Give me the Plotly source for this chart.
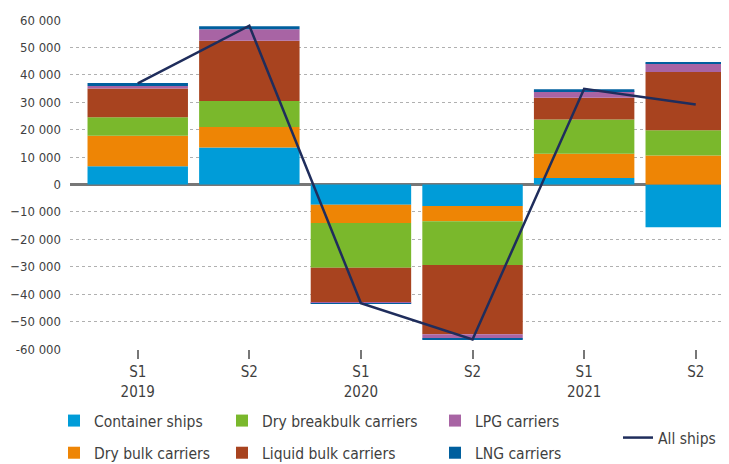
import plotly.graph_objects as go

periods = ["S1", "S2", "S1", "S2", "S1", "S2"]
years = ["2019", "", "2020", "", "2021", ""]

container = [6700, 13500, -7400, -7800, 2400, -15600]
dry_bulk = [11100, 7500, -6600, -5600, 8800, 10600]
dry_breakbulk = [6700, 9500, -16400, -16000, 12500, 9200]
liquid_bulk = [10500, 21900, -12800, -25200, 7900, 21200]
lpg = [900, 4200, -200, -1600, 2500, 3100]
lng = [1100, 1100, -100, -400, 650, 500]
all_ships = [36900, 57900, -43300, -56500, 34900, 29200]

y_ticks = [60000, 50000, 40000, 30000, 20000, 10000, 0, -10000, -20000, -30000, -40000, -50000, -60000]
y_tick_labels = ["60 000", "50 000", "40 000", "30 000", "20 000", "10 000", "0",
                 "\u221210 000", "\u221220 000", "\u221230 000", "\u221240 000", "\u221250 000", "-60 000"]

FONT = "Liberation Sans Narrow, DejaVu Sans Condensed, Roboto, sans-serif"
TXT = "#3f3f3f"

x = list(range(len(periods)))
tick_text = [p + ("<br>" + y if y else "") for p, y in zip(periods, years)]

series = [
    ("Container ships", container, "#009cd8", "legend"),
    ("Dry bulk carriers", dry_bulk, "#ee8505", "legend"),
    ("Dry breakbulk carriers", dry_breakbulk, "#7ab82c", "legend2"),
    ("Liquid bulk carriers", liquid_bulk, "#a8431f", "legend2"),
    ("LPG carriers", lpg, "#a864a4", "legend3"),
    ("LNG carriers", lng, "#005f9e", "legend3"),
]

fig = go.Figure()
for name, vals, color, leg in series:
    fig.add_trace(go.Bar(
        x=x, y=vals, name=name, marker=dict(color=color, line=dict(width=0)),
        legend=leg, legendgroup=name,
    ))

fig.add_trace(go.Scatter(
    x=x, y=all_ships, name="All ships", mode="lines",
    line=dict(color="#1f2d5c", width=2.5), legend="legend4",
))

def leg(xpx, ypx):
    return dict(
        xref="container", yref="container", x=xpx / 729, y=1 - ypx / 464,
        xanchor="left", yanchor="top", orientation="v", traceorder="grouped",
        tracegroupgap=9, bgcolor="rgba(0,0,0,0)", borderwidth=0,
        font=dict(family=FONT, size=15.5, color=TXT),
    )

fig.update_layout(
    width=729, height=464,
    margin=dict(l=62, r=8, t=12, b=123, autoexpand=False),
    paper_bgcolor="white", plot_bgcolor="white",
    barmode="relative", bargap=0.1,
    font=dict(family=FONT, color=TXT),
    showlegend=True,
    legend=leg(46, 396),
    legend2=leg(214, 396),
    legend3=leg(427, 396),
    legend4=leg(610, 413),
    xaxis=dict(
        range=[-0.607, 5.298], tickmode="array", tickvals=x, ticktext=tick_text,
        ticks="outside", ticklen=9, tickwidth=2, tickcolor="#777777",
        showgrid=False, zeroline=False, showline=False,
        tickfont=dict(family=FONT, size=15, color=TXT),
    ),
    yaxis=dict(
        range=[-60000, 60000], tickmode="array", tickvals=y_ticks, ticktext=y_tick_labels,
        showgrid=True, gridcolor="#b0b0b0", griddash="dot", gridwidth=1,
        zeroline=True, zerolinecolor="#777777", zerolinewidth=2.5,
        showline=False, ticks="", ticklabelstandoff=8,
        tickfont=dict(family=FONT, size=13, color=TXT),
    ),
)

fig.write_html("out.html")
